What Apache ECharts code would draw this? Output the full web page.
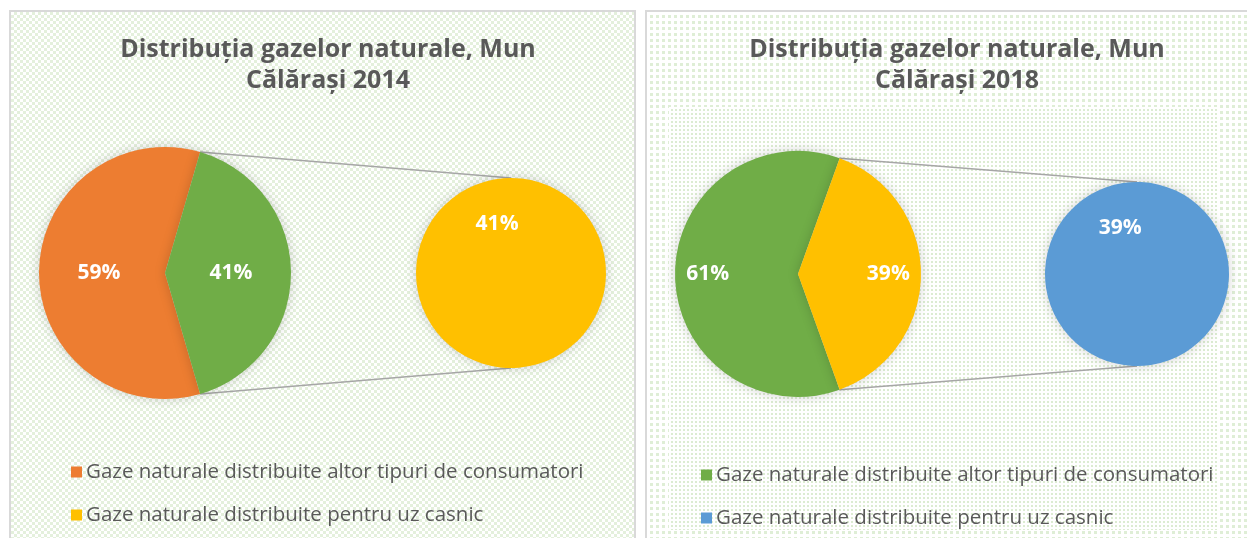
<!DOCTYPE html>
<html>
<head>
<meta charset="utf-8">
<script src="https://cdn.jsdelivr.net/npm/echarts@6/dist/echarts.min.js"></script>
<style>
  html, body { margin: 0; padding: 0; background: #fff; overflow: hidden; }
  body { width: 1247px; height: 538px; position: relative; }
  .panel { position: absolute; box-sizing: border-box; border: 2px solid #d9d9d9; border-bottom: none; }
  #panelA {
    left: 9px; top: 10px; width: 627px; height: 540px;
    background: repeating-conic-gradient(#e4f0dc 0 25%, #ffffff 0 50%) 0 0 / 6px 6px;
  }
  #panelB {
    left: 645px; top: 10px; width: 620px; height: 540px; border-right: none;
    background: conic-gradient(from 90deg at 3px 3px, #dfeed6 25%, #ffffff 0) 0 0 / 6px 6px;
  }
  #panelB .inner {
    position: absolute; left: 22px; top: 95px; width: 550px; height: 423px;
    background: conic-gradient(from 90deg at 2px 2px, #dcecd2 25%, #ffffff 0) 0 0 / 4px 4px;
  }
  .chart { position: absolute; left: 0; top: 0; width: 1247px; height: 538px; }
</style>
</head>
<body>
<div class="panel" id="panelA"></div>
<div class="panel" id="panelB"><div class="inner"></div></div>
<div class="chart" id="chartA"></div>
<div class="chart" id="chartB"></div>
<script>
// Natural gas distribution, Călărași municipality (percent of total)
const categories = [
  'Gaze naturale distribuite altor tipuri de consumatori',
  'Gaze naturale distribuite pentru uz casnic'
];
const years = ['2014', '2018'];
const altorTipuri = [59, 61];   // other consumer types
const uzCasnic = [41, 39];      // household use
const titleText = 'Distribuția gazelor naturale, Mun\nCălărași ';

const FONT = '"Open Sans", "Noto Sans", sans-serif';
const TEXT = '#595959';

// Layout and colours of each panel
const panels = [
  {
    el: 'chartA', titleX: 323,
    main: { cx: 165, cy: 273, r: 126, labelRatio: 0.5 },
    sub: { cx: 511, cy: 273, r: 95, labelAngle: 106 },
    colors: ['#ED7D31', '#70AD47', '#FFC000'],
    legend: { left: 66, top: 456 }
  },
  {
    el: 'chartB', titleX: 952,
    main: { cx: 798, cy: 274, r: 123, labelRatio: 0.71 },
    sub: { cx: 1137, cy: 274, r: 92, labelAngle: 110 },
    colors: ['#70AD47', '#FFC000', '#5B9BD5'],
    legend: { left: 696, top: 459 }
  }
];

const shadow = { shadowBlur: 12, shadowColor: 'rgba(0,0,0,0.18)' };
const pctLabel = { color: '#fff', fontSize: 21, fontWeight: 'bold', fontFamily: FONT };

function buildOption(i) {
  const p = panels[i];
  const other = altorTipuri[i];
  const house = uzCasnic[i];
  const total = other + house;
  // The split slice is centred on the right; the first slice on the left
  const startAngle = 180 + (other / total) * 180;
  const half = (house / total) * Math.PI;   // half-angle of the split slice
  const m = p.main, s = p.sub;
  const topPt = [m.cx + m.r * Math.cos(half), m.cy - m.r * Math.sin(half)];
  const botPt = [m.cx + m.r * Math.cos(half), m.cy + m.r * Math.sin(half)];
  const mainData = [
    { name: categories[0], value: other, itemStyle: { color: p.colors[0] } },
    { name: 'Altele', value: house, itemStyle: { color: p.colors[1] } }
  ];
  const r0 = m.r * (2 * m.labelRatio - 1);
  return {
    animation: false,
    title: {
      text: titleText + years[i],
      left: p.titleX, top: 29, textAlign: 'center',
      textStyle: { fontFamily: FONT, fontSize: 25, fontWeight: 'bold', color: TEXT, lineHeight: 31 }
    },
    legend: {
      orient: 'vertical', left: p.legend.left, top: p.legend.top,
      itemWidth: 11, itemHeight: 11, itemGap: 21, icon: 'rect',
      selectedMode: false,
      textStyle: { fontFamily: FONT, fontSize: 20.5, color: TEXT, lineHeight: 22, padding: [0, 0, 0, -1] },
      data: [
        { name: categories[0], itemStyle: { color: p.colors[0] } },
        { name: categories[1], itemStyle: { color: p.colors[2] } }
      ]
    },
    graphic: [topPt, botPt].map((pt, k) => ({
      type: 'line', silent: true, z: 0,
      shape: { x1: pt[0], y1: pt[1], x2: s.cx, y2: k === 0 ? s.cy - s.r : s.cy + s.r },
      style: { stroke: '#a6a6a6', lineWidth: 1.5 }
    })),
    series: [
      {
        type: 'pie', center: [m.cx, m.cy], radius: [0, m.r],
        startAngle: startAngle, clockwise: true, silent: true,
        label: { show: false }, labelLine: { show: false },
        itemStyle: Object.assign({ borderWidth: 0 }, shadow),
        data: mainData
      },
      {
        // label ring for the main pie values
        type: 'pie', center: [m.cx, m.cy], radius: [r0, m.r],
        startAngle: startAngle, clockwise: true, silent: true, z: 3,
        itemStyle: { color: 'rgba(0,0,0,0)' },
        label: Object.assign({ show: true, position: 'inside', formatter: '{c}%' }, pctLabel),
        labelLine: { show: false },
        data: mainData.map(d => ({ name: '', value: d.value }))
      },
      {
        type: 'pie', center: [s.cx, s.cy], radius: [0, s.r],
        startAngle: s.labelAngle + 180, clockwise: true, silent: true,
        itemStyle: Object.assign({ color: p.colors[2], borderWidth: 0 }, shadow),
        label: Object.assign({ show: true, position: 'inside', formatter: '{c}%' }, pctLabel),
        labelLine: { show: false },
        data: [{ name: categories[1], value: house }]
      }
    ]
  };
}

panels.forEach((p, i) => {
  const chart = echarts.init(document.getElementById(p.el), null, { renderer: 'canvas' });
  chart.setOption(buildOption(i));
});
</script>
</body>
</html>
